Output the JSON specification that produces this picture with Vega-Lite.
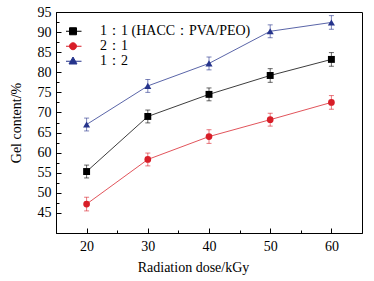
{
  "$schema": "https://vega.github.io/schema/vega-lite/v6.json",
  "autosize": "none",
  "padding": {"left": 56, "top": 12, "right": 12, "bottom": 48},
  "width": 306,
  "height": 221,
  "config": {
    "font": "Liberation Serif",
    "view": {"stroke": "#000", "strokeWidth": 1},
    "axis": {"domainColor": "#000", "tickColor": "#000", "labelColor": "#000", "titleColor": "#000", "labelFont": "Liberation Serif", "titleFont": "Liberation Serif", "labelFontSize": 14, "titleFontSize": 14, "titleFontWeight": "normal", "grid": false}
  },
  "data": {"values": [
    {"series": "1：1 (HACC：PVA/PEO)", "dose": 20, "gel": 55.3, "err": 1.6},
    {"series": "1：1 (HACC：PVA/PEO)", "dose": 30, "gel": 69.0, "err": 1.6},
    {"series": "1：1 (HACC：PVA/PEO)", "dose": 40, "gel": 74.5, "err": 1.6},
    {"series": "1：1 (HACC：PVA/PEO)", "dose": 50, "gel": 79.2, "err": 1.7},
    {"series": "1：1 (HACC：PVA/PEO)", "dose": 60, "gel": 83.2, "err": 1.7},
    {"series": "2：1", "dose": 20, "gel": 47.2, "err": 1.7},
    {"series": "2：1", "dose": 30, "gel": 58.3, "err": 1.6},
    {"series": "2：1", "dose": 40, "gel": 64.0, "err": 1.7},
    {"series": "2：1", "dose": 50, "gel": 68.2, "err": 1.6},
    {"series": "2：1", "dose": 60, "gel": 72.5, "err": 1.7},
    {"series": "1：2", "dose": 20, "gel": 67.0, "err": 1.6},
    {"series": "1：2", "dose": 30, "gel": 76.6, "err": 1.6},
    {"series": "1：2", "dose": 40, "gel": 82.2, "err": 1.6},
    {"series": "1：2", "dose": 50, "gel": 90.2, "err": 1.6},
    {"series": "1：2", "dose": 60, "gel": 92.4, "err": 1.7}
  ]},
  "resolve": {"axis": {"x": "independent", "y": "independent"}},
  "layer": [
    {
      "mark": {"type": "errorbar", "ticks": {"size": 5, "opacity": 0.6}, "rule": {"opacity": 0.6, "strokeWidth": 1}},
      "encoding": {
        "x": {"field": "dose", "type": "quantitative", "scale": {"domain": [15, 65]},
              "axis": {"orient": "bottom", "values": [25, 35, 45, 55], "labels": false, "tickSize": -3, "domain": false, "title": null}},
        "y": {"field": "gel", "type": "quantitative", "scale": {"domain": [43, 95]},
              "axis": {"orient": "left", "values": [47.5, 52.5, 57.5, 62.5, 67.5, 72.5, 77.5, 82.5, 87.5, 92.5], "labels": false, "tickSize": -3, "domain": false, "title": null}},
        "yError": {"field": "err"},
        "color": {"field": "series", "type": "nominal"}
      }
    },
    {
      "mark": {"type": "line", "strokeWidth": 0.9, "opacity": 0.85},
      "encoding": {
        "x": {"field": "dose", "type": "quantitative",
              "axis": {"orient": "bottom", "values": [20, 30, 40, 50, 60], "tickSize": -5, "labelPadding": 11, "title": "Radiation dose/kGy", "titleX": 137, "titleAlign": "center", "titleY": 27, "titleBaseline": "top"}},
        "y": {"field": "gel", "type": "quantitative",
              "axis": {"orient": "left", "values": [45, 50, 55, 60, 65, 70, 75, 80, 85, 90, 95], "tickSize": -5, "labelPadding": 10, "title": "Gel content/%", "titlePadding": 14}},
        "color": {"field": "series", "type": "nominal",
                  "scale": {"domain": ["1：1 (HACC：PVA/PEO)", "2：1", "1：2"], "range": ["#000000", "#d81e28", "#26348c"]}},
        "detail": {"field": "series"}
      }
    },
    {
      "transform": [{"filter": {"field": "series", "equal": "1：1 (HACC：PVA/PEO)"}}],
      "mark": {"type": "point", "filled": true, "size": 48, "opacity": 1, "shape": "square"},
      "encoding": {
        "x": {"field": "dose", "type": "quantitative", "axis": null},
        "y": {"field": "gel", "type": "quantitative", "axis": null},
        "color": {"field": "series", "type": "nominal"}
      }
    },
    {
      "transform": [{"filter": {"field": "series", "equal": "2：1"}}],
      "mark": {"type": "point", "filled": true, "size": 45, "opacity": 1, "shape": "circle"},
      "encoding": {
        "x": {"field": "dose", "type": "quantitative", "axis": null},
        "y": {"field": "gel", "type": "quantitative", "axis": null},
        "color": {"field": "series", "type": "nominal"}
      }
    },
    {
      "transform": [{"filter": {"field": "series", "equal": "1：2"}}],
      "mark": {"type": "point", "filled": true, "size": 50, "opacity": 1, "shape": "triangle-up"},
      "encoding": {
        "x": {"field": "dose", "type": "quantitative", "axis": null},
        "y": {"field": "gel", "type": "quantitative", "axis": null},
        "color": {"field": "series", "type": "nominal"}
      }
    },
    {
      "mark": {"type": "point", "filled": true, "opacity": 0, "size": 100},
      "encoding": {
        "x": {"field": "dose", "type": "quantitative", "axis": null},
        "y": {"field": "gel", "type": "quantitative", "axis": null},
        "color": {"field": "series", "type": "nominal",
                  "legend": {"orient": "none", "legendX": 10, "legendY": 13, "title": null, "labelFontSize": 14, "labelFont": "Liberation Serif", "labelColor": "#000", "symbolSize": 100, "symbolOpacity": 1, "symbolStrokeWidth": 1, "rowPadding": 0, "clipHeight": 12.5, "labelOffset": 20, "padding": 0,
                    "encoding": {"symbols": {
                      "stroke": {"value": {"expr": "scale('color', datum.value)"}},
                      "opacity": {"value": 1}
                    }}}},
        "shape": {"field": "series", "type": "nominal",
                  "scale": {"domain": ["1：1 (HACC：PVA/PEO)", "2：1", "1：2"],
                            "range": ["M-1.7,0H1.7M-0.7,-0.7H0.7V0.7H-0.7Z", "M-1.7,0H1.7M0.7,0A0.7,0.7,0,1,1,-0.7,0A0.7,0.7,0,1,1,0.7,0Z", "M-1.7,0H1.7M0,-0.85L0.8,0.55H-0.8Z"]}}
      }
    }
  ]
}
